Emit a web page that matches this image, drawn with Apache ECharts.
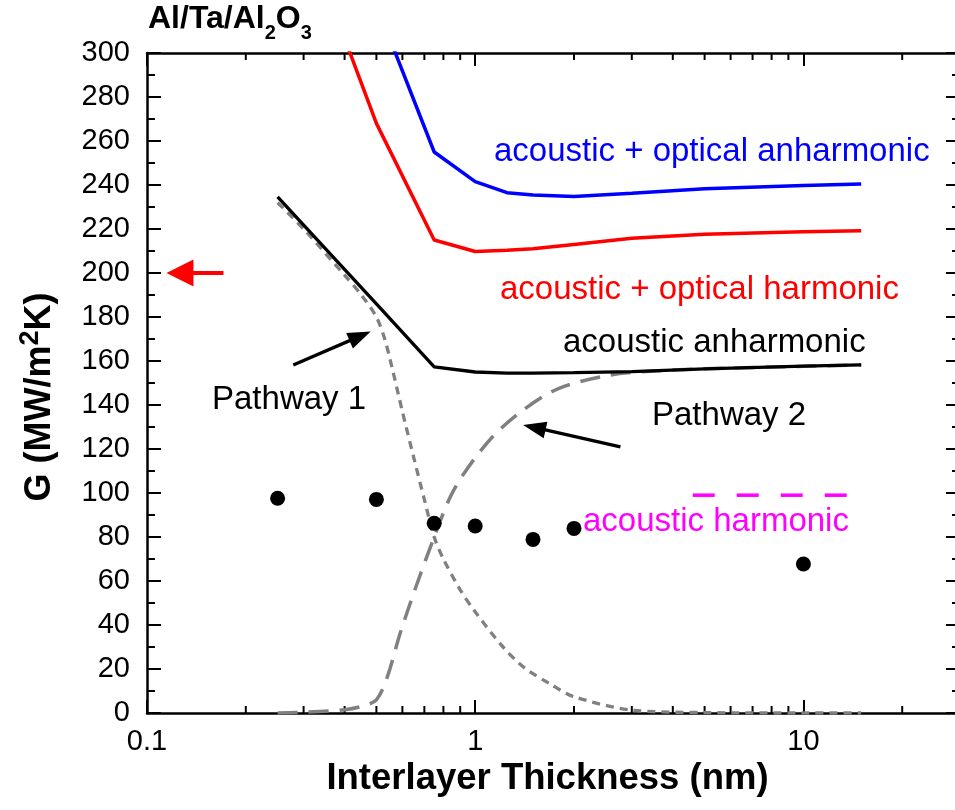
<!DOCTYPE html>
<html><head><meta charset="utf-8">
<script src="https://cdn.jsdelivr.net/npm/echarts@6/dist/echarts.min.js"></script>
<style>html,body{margin:0;padding:0;background:#fff}#c{width:955px;height:810px}</style>
</head><body><div id="c"></div>
<script>
const FONT = "'Liberation Sans', Arial, sans-serif";

// model curves (x in nm, G in MW/m^2K)
const modelX = [0.25, 0.5, 0.75, 1, 1.25, 1.5, 2, 3, 5, 10, 15];
const acousticAnharmonic = [234.6, 186, 157.3, 155, 154.5, 154.5, 154.7, 155.2, 156.4, 157.7, 158.2];
const acousticOpticalHarmonic = [388, 268, 215, 209.8, 210.3, 211, 213, 215.8, 217.6, 218.8, 219.2];
const acousticOpticalAnharmonic = [440, 322, 255, 241.5, 236.5, 235.5, 234.8, 236.3, 238.3, 239.8, 240.4];

// pathway contributions
const pathway1X = [0.25, 0.3, 0.4, 0.45, 0.5, 0.53, 0.56, 0.6, 0.65, 0.7, 0.75, 0.8, 0.9, 1, 1.2, 1.4, 1.7, 2, 3, 5, 10, 15];
const pathway1Y = [232, 220, 199, 190, 180, 170, 156, 137, 116, 97, 80, 70, 56, 46, 31, 21, 13, 7.4, 1.3, 0.2, 0, 0];
const pathway2X = [0.25, 0.3, 0.4, 0.45, 0.5, 0.54, 0.59, 0.66, 0.75, 0.84, 0.94, 1.13, 1.4, 1.8, 2.58, 3.66, 6, 10, 15];
const pathway2Y = [0, 0.3, 1.5, 3, 6, 16.5, 36, 57.4, 80, 98.3, 110.5, 125.6, 137.7, 147.6, 153.6, 155.6, 156.8, 157.6, 158.2];

// measured data
const measuredX = [0.25, 0.5, 0.75, 1, 1.5, 2, 10];
const measuredG = [97.6, 97.1, 86.2, 85, 78.9, 83.9, 67.7];

// acoustic harmonic level
const acousticHarmonicX = [4.6, 13.7];
const acousticHarmonicY = [99, 99];

// axis ticks
const xMinorTicks = [0.2, 0.3, 0.4, 0.5, 0.6, 0.7, 0.8, 0.9, 2, 3, 4, 5, 6, 7, 8, 9, 20];
const xMin = 0.1, xMax = 30, yMin = 0, yMax = 300, yStep = 20;

const zip = (xs, ys) => xs.map((x, i) => [x, ys[i]]);

const chart = echarts.init(document.getElementById('c'), null, {renderer: 'canvas'});

const axisLineStyle = {color: '#000', width: 2.5};
const commonX = {
  type: 'log', logBase: 10, min: xMin, max: xMax,
  axisLine: {show: true, lineStyle: axisLineStyle, onZero: false},
  axisTick: {show: true, inside: true, length: 13, lineStyle: {color: '#000', width: 2}},
  splitLine: {show: false}, minorTick: {show: false}
};
const commonY = {
  type: 'value', min: yMin, max: yMax, interval: yStep,
  axisLine: {show: true, lineStyle: axisLineStyle, onZero: false},
  axisTick: {show: true, inside: true, length: 14, lineStyle: {color: '#000', width: 2}},
  minorTick: {show: true, splitNumber: 2, length: 8, lineStyle: {color: '#000', width: 2}},
  splitLine: {show: false}
};

const arrowStyle = (c, w) => ({color: c, width: w, type: 'solid'});
const note = (x, y, text, fill) => ({type: 'text', x, y, style: {text, fill, fontSize: 33, fontFamily: FONT, verticalAlign: 'middle'}});

chart.setOption({
  animation: false,
  backgroundColor: '#fff',
  grid: {left: 147, top: 53, width: 813, height: 660, outerBoundsMode: 'none', containLabel: false},
  xAxis: [
    Object.assign({}, commonX, {
      position: 'bottom',
      axisLabel: {show: true, color: '#000', fontSize: 29, fontFamily: FONT, margin: 14, showMaxLabel: false,
        formatter: v => (v === 0.1 || v === 1 || v === 10) ? String(v) : ''},
      name: 'Interlayer Thickness (nm)', nameLocation: 'middle', nameGap: 44,
      nameTextStyle: {color: '#000', fontSize: 36.5, fontWeight: 'bold', fontFamily: FONT, padding: [0, 12, 0, 0]}
    }),
    Object.assign({}, commonX, {position: 'top', axisLabel: {show: false}})
  ],
  yAxis: [
    Object.assign({}, commonY, {
      position: 'left',
      axisLabel: {show: true, color: '#000', fontSize: 29, fontFamily: FONT, margin: 17}
    }),
    Object.assign({}, commonY, {position: 'right', axisLabel: {show: false}})
  ],
  graphic: [
    {type: 'text', left: 148, top: 3, style: {
      text: '{m|Al/Ta/Al}{s|2}{m|O}{s|3}',
      rich: {
        m: {fontSize: 32, fontWeight: 'bold', fontFamily: FONT, fill: '#000', lineHeight: 32, verticalAlign: 'top'},
        s: {fontSize: 20, fontWeight: 'bold', fontFamily: FONT, fill: '#000', lineHeight: 20, padding: [20, 0, 0, 0], verticalAlign: 'top'}
      }
    }},
    {type: 'text', x: 40, y: 397, rotation: Math.PI / 2, style: {
      text: '{m|G (MW/m}{p|2}{m|K)}',
      align: 'center', verticalAlign: 'middle',
      rich: {
        m: {fontSize: 36, fontWeight: 'bold', fontFamily: FONT, fill: '#000', lineHeight: 36, verticalAlign: 'bottom'},
        p: {fontSize: 27, fontWeight: 'bold', fontFamily: FONT, fill: '#000', lineHeight: 27, padding: [0, 0, 14, 0], verticalAlign: 'bottom'}
      }
    }},
    note(494, 152, 'acoustic + optical anharmonic', '#0000ff'),
    note(500, 290, 'acoustic + optical harmonic', '#ff0000'),
    note(563, 343, 'acoustic anharmonic', '#000'),
    note(212, 400, 'Pathway 1', '#000'),
    note(652, 416, 'Pathway 2', '#000'),
    note(583, 522, 'acoustic harmonic', '#ff00ff')
  ],
  series: [
    {
      type: 'custom', silent: true, clip: false, z: 1,
      data: xMinorTicks.map(v => [v, 0]),
      renderItem(params, api) {
        const x = api.coord([api.value(0), 0])[0];
        const cs = params.coordSys;
        const st = {stroke: '#000', lineWidth: 2};
        return {type: 'group', children: [
          {type: 'line', shape: {x1: x, y1: cs.y + cs.height, x2: x, y2: cs.y + cs.height - 7}, style: st},
          {type: 'line', shape: {x1: x, y1: cs.y, x2: x, y2: cs.y + 7}, style: st}
        ]};
      }
    },
    {name: 'Pathway 1', type: 'line', data: zip(pathway1X, pathway1Y), showSymbol: false, smooth: 0.3,
      lineStyle: {color: '#808080', width: 3.3, type: [8, 6]}, z: 2},
    {name: 'Pathway 2', type: 'line', data: zip(pathway2X, pathway2Y), showSymbol: false, smooth: 0.3,
      lineStyle: {color: '#808080', width: 3.5, type: [20, 11]}, z: 2},
    {name: 'acoustic + optical anharmonic', type: 'line', data: zip(modelX, acousticOpticalAnharmonic), showSymbol: false,
      lineStyle: {color: '#0000ff', width: 3.5}, z: 3},
    {name: 'acoustic + optical harmonic', type: 'line', data: zip(modelX, acousticOpticalHarmonic), showSymbol: false,
      lineStyle: {color: '#ff0000', width: 3.5}, z: 3},
    {name: 'acoustic anharmonic', type: 'line', data: zip(modelX, acousticAnharmonic), showSymbol: false,
      lineStyle: {color: '#000', width: 3.3}, z: 4},
    {name: 'acoustic harmonic', type: 'line', data: zip(acousticHarmonicX, acousticHarmonicY), showSymbol: false,
      lineStyle: {color: '#ff00ff', width: 3.5, type: [22, 22]}, z: 3},
    {name: 'measured', type: 'scatter', data: zip(measuredX, measuredG), symbol: 'circle', symbolSize: 15,
      itemStyle: {color: '#000', opacity: 1}, z: 5,
      markLine: {
        silent: true, animation: false, label: {show: false}, emphasis: {disabled: true},
        symbol: ['none', 'triangle'],
        data: [
          [{coord: [0.171, 200], lineStyle: arrowStyle('#ff0000', 4)},
           {coord: [0.126, 200], symbol: 'triangle', symbolSize: [27, 27], itemStyle: {color: '#ff0000'}}],
          [{coord: [0.279, 158.2], lineStyle: arrowStyle('#000', 3.3)},
           {coord: [0.446, 171.3], symbol: 'triangle', symbolSize: [17, 23], itemStyle: {color: '#000'}}],
          [{coord: [2.77, 121], lineStyle: arrowStyle('#000', 3.3)},
           {coord: [1.514, 129.8], symbol: 'triangle', symbolSize: [17, 23], itemStyle: {color: '#000'}}]
        ]
      }
    }
  ]
});
</script></body></html>
